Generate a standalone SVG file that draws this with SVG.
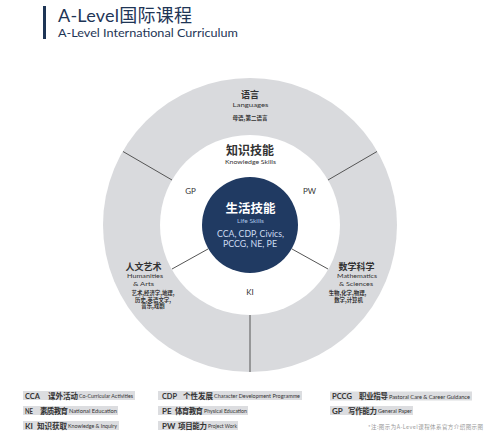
<svg xmlns="http://www.w3.org/2000/svg" width="500" height="438" viewBox="0 0 500 438">
<style>
.lat{font-family:Lato,"Liberation Sans","Noto Sans CJK SC",sans-serif}
.cjk{font-family:"Noto Sans CJK SC","Noto Sans",sans-serif}
.dk{fill:#333}
.lg{fill:#dcdde0}
.code{font-family:Lato,"Liberation Sans",sans-serif;font-size:8px;font-weight:bold;fill:#333}
.cn{font-family:"Noto Sans CJK SC",sans-serif;font-size:7.5px;font-weight:bold;fill:#333}
.en{font-family:Lato,"Liberation Sans",sans-serif;font-size:4.8px;fill:#333}
.div{stroke:#555;stroke-width:1;fill:none}
</style>
<rect width="500" height="438" fill="#fff"/>
<g id="title">
<rect x="43" y="6" width="3" height="33" fill="#1e3556"/>
<text x="58" y="22" class="lat" font-size="18" fill="#1e3556" textLength="134">A-Level<tspan class="cjk">国际课程</tspan></text>
<text x="58" y="37" class="lat" font-size="11" fill="#1e3556" textLength="180" lengthAdjust="spacingAndGlyphs">A-Level International Curriculum</text>
</g>
<g id="outer-ring">
<circle cx="250" cy="225" r="147" fill="#d9dadd"/>
</g>
<g id="knowledge-ring">
<circle cx="250" cy="225" r="90" fill="#fff"/>
</g>
<g id="connectors">
<line class="div" x1="123" y1="151.5" x2="172" y2="180"/>
<line class="div" x1="377" y1="151.5" x2="328" y2="180"/>
<line class="div" x1="250" y1="315" x2="250" y2="372"/>
<line class="div" x1="208" y1="249" x2="172" y2="269"/>
<line class="div" x1="292" y1="249" x2="328" y2="269"/>
</g>
<g id="life-skills">
<circle cx="250" cy="225" r="48" fill="#203a62"/>
<text x="250.5" y="213" class="cjk" font-size="12.5" font-weight="bold" fill="#fff" text-anchor="middle">生活技能</text>
<text x="250.5" y="223" class="lat" font-size="6.5" fill="#a9c3e6" text-anchor="middle" textLength="27" lengthAdjust="spacingAndGlyphs">Life Skills</text>
<text x="250.5" y="237" class="lat" font-size="9" fill="#cddcf2" text-anchor="middle" textLength="67" lengthAdjust="spacingAndGlyphs">CCA, CDP, Civics,</text>
<text x="250" y="247" class="lat" font-size="9" fill="#cddcf2" text-anchor="middle" textLength="54" lengthAdjust="spacingAndGlyphs">PCCG, NE, PE</text>
</g>
<g id="languages">
<text x="250" y="97.5" class="cjk dk" font-size="9" font-weight="bold" text-anchor="middle">语言</text>
<text x="250.5" y="106.5" class="lat dk" font-size="6.5" text-anchor="middle" textLength="36" lengthAdjust="spacingAndGlyphs">Languages</text>
<text x="250" y="120" class="cjk dk" font-size="5.5" font-weight="bold" text-anchor="middle">母语,第二语言</text>
</g>
<g id="knowledge-skills">
<text x="250" y="155" class="cjk dk" font-size="12" font-weight="bold" text-anchor="middle">知识技能</text>
<text x="250.5" y="163.5" class="lat dk" font-size="6.5" text-anchor="middle" textLength="51" lengthAdjust="spacingAndGlyphs">Knowledge Skills</text>
</g>
<g id="gp"><text x="190.5" y="194" class="lat dk" font-size="8" text-anchor="middle">GP</text></g>
<g id="pw"><text x="309.5" y="194" class="lat dk" font-size="8" text-anchor="middle">PW</text></g>
<g id="ki"><text x="250" y="295" class="lat dk" font-size="8" text-anchor="middle">KI</text></g>
<g id="humanities">
<text x="143.5" y="270" class="cjk dk" font-size="9" font-weight="bold" text-anchor="middle">人文艺术</text>
<text x="145" y="278" class="lat dk" font-size="6.5" text-anchor="middle" textLength="36" lengthAdjust="spacingAndGlyphs">Humanities</text>
<text x="143.5" y="285.5" class="lat dk" font-size="6.5" text-anchor="middle" textLength="21" lengthAdjust="spacingAndGlyphs">&amp; Arts</text>
<text x="153" y="295" class="cjk dk" font-size="5.4" font-weight="bold" text-anchor="middle">艺术,经济学,地理,</text>
<text x="153" y="301.5" class="cjk dk" font-size="5.4" font-weight="bold" text-anchor="middle">历史,英语文学,</text>
<text x="153" y="308" class="cjk dk" font-size="5.4" font-weight="bold" text-anchor="middle">音乐,戏剧</text>
</g>
<g id="math-sciences">
<text x="356.5" y="270" class="cjk dk" font-size="9" font-weight="bold" text-anchor="middle">数学科学</text>
<text x="357" y="278" class="lat dk" font-size="6.5" text-anchor="middle" textLength="40" lengthAdjust="spacingAndGlyphs">Mathematics</text>
<text x="356" y="285.5" class="lat dk" font-size="6.5" text-anchor="middle" textLength="34" lengthAdjust="spacingAndGlyphs">&amp; Sciences</text>
<text x="347.5" y="295" class="cjk dk" font-size="5.4" font-weight="bold" text-anchor="middle">生物,化学,物理,</text>
<text x="348.5" y="301.5" class="cjk dk" font-size="5.4" font-weight="bold" text-anchor="middle">数学,计算机</text>
</g>
<g id="legend">
<rect class="lg" x="23" y="391" width="112" height="9"/>
<text class="code" x="25" y="398.5" textLength="15" lengthAdjust="spacingAndGlyphs">CCA</text>
<text class="cn" x="48" y="398.5" textLength="30">课外活动</text>
<text class="en" x="79" y="398" textLength="54" lengthAdjust="spacingAndGlyphs">Co-Curricular Activities</text>
<rect class="lg" x="23" y="406" width="95" height="9"/>
<text class="code" x="25" y="413.5" textLength="8" lengthAdjust="spacingAndGlyphs">NE</text>
<text class="cn" x="40" y="413.5" textLength="28">素质教育</text>
<text class="en" x="69" y="413" textLength="48" lengthAdjust="spacingAndGlyphs">National Education</text>
<rect class="lg" x="23" y="421" width="96" height="9"/>
<text class="code" x="25" y="428.5">KI</text>
<text class="cn" x="37" y="428.5" textLength="30">知识获取</text>
<text class="en" x="68" y="428" textLength="49" lengthAdjust="spacingAndGlyphs">Knowledge &amp; Inquiry</text>
<rect class="lg" x="158" y="391" width="144" height="9"/>
<text class="code" x="162" y="398.5" textLength="15" lengthAdjust="spacingAndGlyphs">CDP</text>
<text class="cn" x="183" y="398.5" textLength="30">个性发展</text>
<text class="en" x="214" y="398" textLength="86" lengthAdjust="spacingAndGlyphs">Character Development Programme</text>
<rect class="lg" x="158" y="406" width="90" height="9"/>
<text class="code" x="162" y="413.5">PE</text>
<text class="cn" x="175" y="413.5" textLength="28">体育教育</text>
<text class="en" x="204" y="413" textLength="43" lengthAdjust="spacingAndGlyphs">Physical Education</text>
<rect class="lg" x="158" y="421" width="80" height="9"/>
<text class="code" x="162" y="428.5">PW</text>
<text class="cn" x="178" y="428.5" textLength="29">项目能力</text>
<text class="en" x="208" y="428" textLength="29" lengthAdjust="spacingAndGlyphs">Project Work</text>
<rect class="lg" x="330" y="391.5" width="142" height="9"/>
<text class="code" x="332" y="399" textLength="20" lengthAdjust="spacingAndGlyphs">PCCG</text>
<text class="cn" x="359" y="399" textLength="29">职业指导</text>
<text class="en" x="389" y="398.5" textLength="81" lengthAdjust="spacingAndGlyphs">Pastoral Care &amp; Career Guidance</text>
<rect class="lg" x="330" y="406" width="83" height="9"/>
<text class="code" x="332" y="413.5">GP</text>
<text class="cn" x="348" y="413.5" textLength="29">写作能力</text>
<text class="en" x="378" y="413" textLength="34" lengthAdjust="spacingAndGlyphs">General Paper</text>
</g>
<g id="note">
<text x="368" y="429" class="cjk" font-size="5.5" fill="#999" textLength="115">*注:图示为A-Level课程体系官方介绍图示图</text>
</g>
</svg>
